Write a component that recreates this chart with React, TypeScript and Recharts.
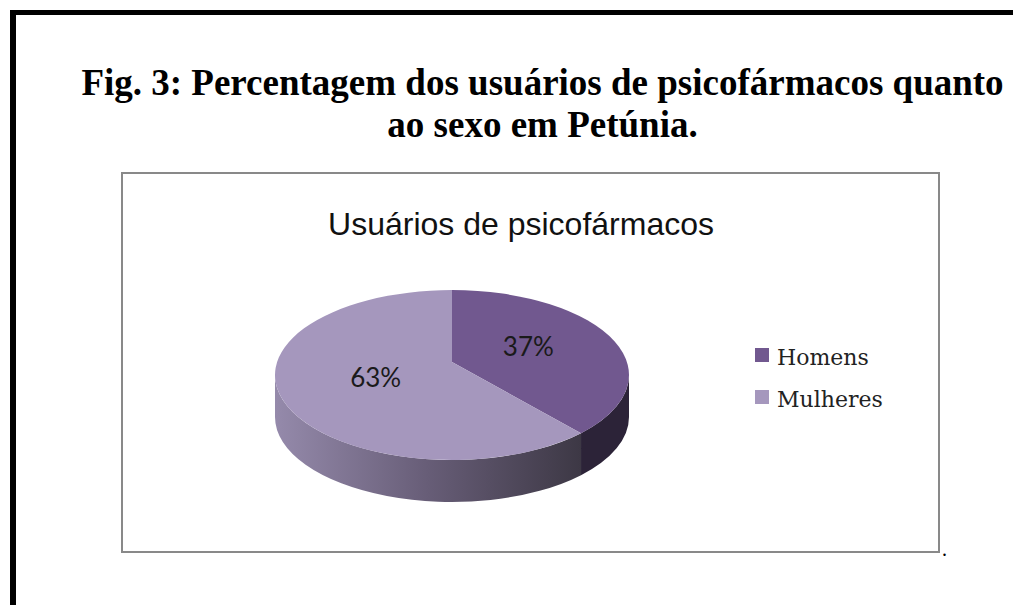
import { PieChart, Pie, Legend } from "recharts";

// Values
const CATEGORIES = ["Homens", "Mulheres"];
const PERCENTS = [37, 63];
const TOP_COLORS = ["#71588F", "#A597BD"];
const SIDE_COLORS = ["#2C2338", "url(#sideFade)"];
const FIG_TITLE = [
  "Fig. 3: Percentagem dos usuários de psicofármacos quanto",
  "ao sexo em Petúnia.",
];
const CHART_TITLE = "Usuários de psicofármacos";

const data = CATEGORIES.map((name, i) => ({
  name,
  value: PERCENTS[i],
  fill: TOP_COLORS[i],
  side: SIDE_COLORS[i],
}));

const RAD = Math.PI / 180;
const TILT = 0.48; // vertical squash of the pie
const DEPTH = 42; // thickness of the 3d side
const LIFT = 13; // perspective: the centre sits a bit above the ellipse middle

// draws one slice as a tilted 3d wedge: the front wall first, then the top face
function Slice3D(props: any) {
  const { cx, cy, outerRadius, startAngle, endAngle, fill } = props;
  const side = props.side ?? props.payload?.side ?? fill;
  const rx = outerRadius;
  const ry = outerRadius * TILT;
  const pt = (a: number, dy = 0) =>
    `${cx + rx * Math.cos(a * RAD)},${cy - ry * Math.sin(a * RAD) + dy}`;
  const hi = Math.max(startAngle, endAngle);
  const lo = Math.min(startAngle, endAngle);
  const large = hi - lo > 180 ? 1 : 0;

  const top = `M${cx},${cy - LIFT} L${pt(hi)} A${rx},${ry} 0 ${large} 1 ${pt(lo)} Z`;

  // parts of the slice lying on the front half (math angles -180..0)
  const walls: string[] = [];
  for (let k = -2; k <= 2; k++) {
    const a1 = Math.max(lo, -180 + 360 * k);
    const a2 = Math.min(hi, 360 * k);
    if (a2 - a1 > 0.01) {
      walls.push(
        `M${pt(a2)} A${rx},${ry} 0 0 1 ${pt(a1)} L${pt(a1, DEPTH)} A${rx},${ry} 0 0 0 ${pt(a2, DEPTH)} Z`
      );
    }
  }

  return (
    <g>
      {walls.map((d, i) => (
        <path key={i} d={d} fill={side} stroke="none" />
      ))}
      <path d={top} fill={fill} stroke="none" />
    </g>
  );
}

function SliceLabel(props: any) {
  const { cx, cy, midAngle, outerRadius, value } = props;
  const c = Math.cos(midAngle * RAD);
  const x = cx + 0.47 * outerRadius * c;
  const y = cy - LIFT + (c >= 0 ? -16 : 15);
  return (
    <text
      x={x}
      y={y}
      textAnchor="middle"
      dominantBaseline="central"
      fontFamily="Lato, 'Open Sans', sans-serif"
      fontSize={26}
      fill="#1a1a1a"
    >
      {value}%
    </text>
  );
}

function LegendList(props: any) {
  const items = props.payload || [];
  return (
    <ul style={{ listStyle: "none", margin: 0, padding: 0 }}>
      {items.map((item: any, i: number) => (
        <li
          key={item.value}
          style={{ display: "flex", alignItems: "center", height: 42 }}
        >
          <span
            style={{
              width: 14,
              height: 14,
              marginRight: 8,
              marginTop: -5,
              background: item.color || TOP_COLORS[i],
              display: "inline-block",
            }}
          />
          <span
            style={{
              fontFamily: "'DejaVu Serif', serif",
              fontSize: 22,
              color: "#222",
            }}
          >
            {item.value}
          </span>
        </li>
      ))}
    </ul>
  );
}

export default function App() {
  return (
    <div
      style={{
        position: "absolute",
        left: 0,
        top: 0,
        width: 1013,
        height: 605,
        overflow: "hidden",
        background: "#fff",
      }}
    >
      {/* page frame, only left and top edges fall inside the picture */}
      <div
        style={{
          position: "absolute",
          left: 10,
          top: 10,
          width: 1100,
          height: 700,
          borderLeft: "6px solid #000",
          borderTop: "5px solid #000",
        }}
      />
      <div
        style={{
          position: "absolute",
          left: 80,
          top: 62,
          width: 925,
          textAlign: "center",
          fontFamily: "'Liberation Serif', 'Times New Roman', serif",
          fontWeight: "bold",
          fontSize: 37,
          lineHeight: "42px",
          whiteSpace: "nowrap",
          color: "#000",
        }}
      >
        {FIG_TITLE.map((line) => (
          <div key={line}>{line}</div>
        ))}
      </div>
      <div
        style={{
          position: "absolute",
          left: 121,
          top: 172,
          width: 815,
          height: 377,
          border: "2px solid #898989",
          background: "#fff",
        }}
      >
        <PieChart width={815} height={377} margin={{ top: 0, right: 0, bottom: 0, left: 0 }}>
          <defs>
            <linearGradient id="sideFade" x1="0" y1="0" x2="1" y2="0">
              <stop offset="0%" stopColor="#958AAB" />
              <stop offset="50%" stopColor="#675D77" />
              <stop offset="100%" stopColor="#3D3845" />
            </linearGradient>
          </defs>
          <text
            x={398}
            y={61}
            textAnchor="middle"
            fontFamily="'Liberation Sans', Arial, sans-serif"
            fontSize={32}
            fill="#111"
          >
            {CHART_TITLE}
          </text>
          <Pie
            data={data}
            dataKey="value"
            nameKey="name"
            cx={329}
            cy={201}
            outerRadius={177}
            startAngle={90}
            endAngle={-270}
            stroke="none"
            shape={Slice3D}
            label={SliceLabel}
            labelLine={false}
            isAnimationActive={false}
          />
          <Legend
            layout="vertical"
            align="right"
            verticalAlign="top"
            content={LegendList}
            wrapperStyle={{ left: 632, top: 162, width: 200 }}
          />
        </PieChart>
      </div>
      <span
        style={{
          position: "absolute",
          left: 942,
          top: 538,
          fontFamily: "'Liberation Serif', serif",
          fontSize: 20,
          lineHeight: "23px",
        }}
      >
        .
      </span>
    </div>
  );
}
